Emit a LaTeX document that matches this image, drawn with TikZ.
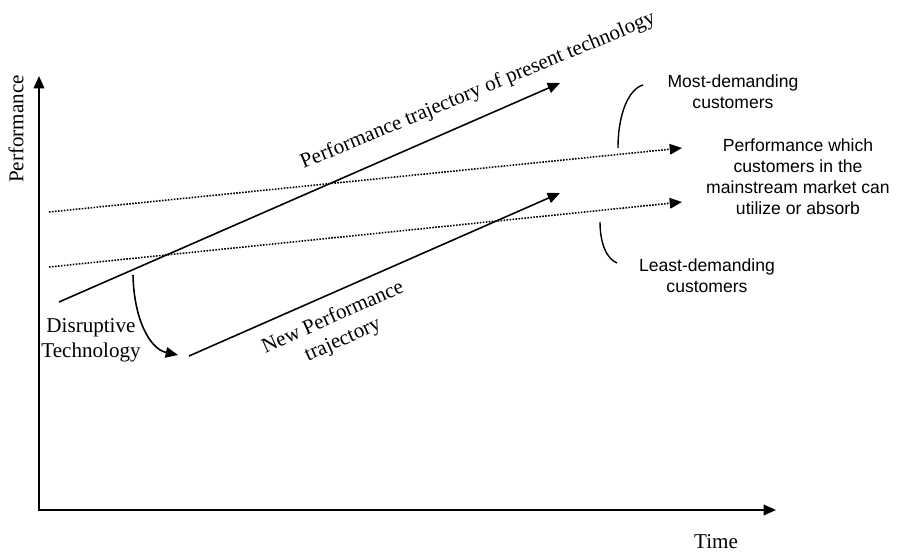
\documentclass[tikz,border=0pt]{standalone}
\usepackage{fontspec}
\setmainfont{Liberation Serif}
\setsansfont{Liberation Sans}
\usepackage{tikz}
\usetikzlibrary{positioning,arrows.meta}

\begin{document}
\begin{tikzpicture}
            [x=0.02cm,y=-0.02cm,font=\fontsize{12}{14}\selectfont,
             axis/.style={line width=1pt,{Triangle[length=7pt,width=6pt]}-{Triangle[length=7pt,width=6pt]}},
             traj/.style={line width=0.9pt,-{Triangle[length=7pt,width=6pt]}},
             limitline/.style={line width=0.9pt,dash pattern=on 0.9pt off 0.8pt,-{Triangle[length=7pt,width=6pt]}},
             custbrace/.style={line width=0.8pt},
             note/.style={font=\sffamily\fontsize{10}{12}\selectfont,align=center}]
            \useasboundingbox (0,0) rectangle (899,554);

            \coordinate (ytop) at (39,76);
            \coordinate (o) at (39,510);
            \coordinate (xend) at (776,510);
            \coordinate (hi0) at (49,212);
            \coordinate (hi1) at (682,148);
            \coordinate (lo0) at (49,267);
            \coordinate (lo1) at (682,202);
            \coordinate (old0) at (59,302);
            \coordinate (old1) at (560,83);
            \coordinate (new0) at (189,356);
            \coordinate (new1) at (560,193);
            \coordinate (jump0) at (133,275);
            \coordinate (jump1) at (178,355);
            \coordinate (most0) at (643,85);
            \coordinate (most1) at (618,148);
            \coordinate (least0) at (600,222);
            \coordinate (least1) at (617,263);

            \node[rotate=90] (perf) at (16,129) {Performance};
            \node (time) at (716,542) {Time};
            \node[rotate=22.5] (oldlbl) at (478,91) {Performance trajectory of present technology};
            \node[rotate=24,align=center] (newlbl) at (338,329) {New Performance\\trajectory};
            \node[align=center] (disr) at (91,340) {Disruptive\\Technology};
            \node[note] (most) at (733,92) {Most-demanding\\customers};
            \node[note] (mainstr) at (798,177) {Performance which\\customers in the\\mainstream market can\\utilize or absorb};
            \node[note] (least) at (707,276) {Least-demanding\\customers};

            \draw[axis] (ytop) -- (o) -- (xend);
            \foreach \from/\to in {old0/old1, new0/new1}
            \draw[traj] (\from) -- (\to);
            \foreach \from/\to in {hi0/hi1, lo0/lo1}
            \draw[limitline] (\from) -- (\to);
            \draw[traj] (jump0) .. controls +(1,45) and +(-28,-6) .. (jump1);
            \draw[custbrace] (most0) .. controls +(-14,4) and +(0,-35) .. (most1);
            \draw[custbrace] (least0) .. controls +(0,22) and +(-10,-4) .. (least1);
          \end{tikzpicture}
\end{document}
